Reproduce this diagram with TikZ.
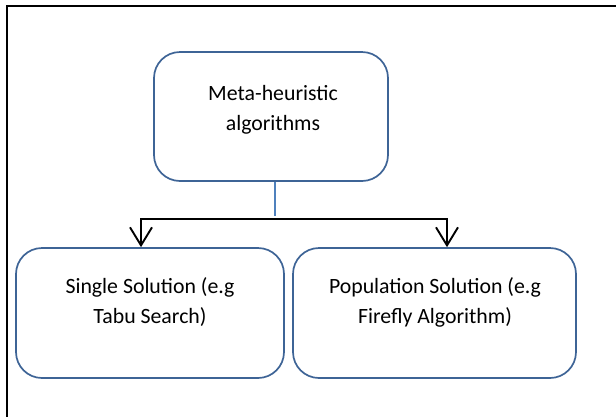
\documentclass[tikz,border=0pt]{standalone}
\usepackage{fontspec}
\setmainfont{Carlito}
\usetikzlibrary{arrows.meta}
\definecolor{boxblue}{RGB}{62,100,150}
\definecolor{lineblue}{RGB}{79,129,189}
\tikzset{
  box/.style={draw=boxblue, line width=1.7pt, rounded corners=26pt, minimum width=#1, inner sep=0pt},
  txt/.style={align=center, font=\fontsize{21.8}{30}\selectfont, inner sep=0pt, anchor=center},
  conn/.style={draw=black, line width=1.9pt, {Straight Barb[length=18pt,width=22pt,line width=1.9pt]}-{Straight Barb[length=18pt,width=22pt,line width=1.9pt]}},
  frame/.style={draw=black, line width=1.6pt}
}
\begin{document}
\begin{tikzpicture}[x=1pt,y=-1pt]
\useasboundingbox (0,0) rectangle (616,416);
\coordinate (f1) at (7,417);
\coordinate (f2) at (7,6);
\coordinate (f3) at (617,6);
\draw[frame] (f1) -- (f2) -- (f3);

\node[box=234pt, minimum height=129pt] (main) at (271,116.5) {};
\node[txt] (maintxt) at (273,110) {Meta-heuristic\\algorithms};

\node[box=268pt, minimum height=130pt] (single) at (150,313) {};
\node[txt] (singletxt) at (150,302) {Single Solution (e.g\\Tabu Search)};

\node[box=283pt, minimum height=130pt] (pop) at (434.5,313) {};
\node[txt] (poptxt) at (435,302) {Population Solution (e.g\\Firefly Algorithm)};

\coordinate (jm) at (275,216);
\coordinate (jl) at (141,219);
\coordinate (jr) at (447,219);
\draw[lineblue, line width=1.6pt] (main.south -| jm) -- (jm);
\draw[conn] (jl |- single.north) -- (jl) -- (jr) -- (jr |- pop.north);
\end{tikzpicture}
\end{document}
